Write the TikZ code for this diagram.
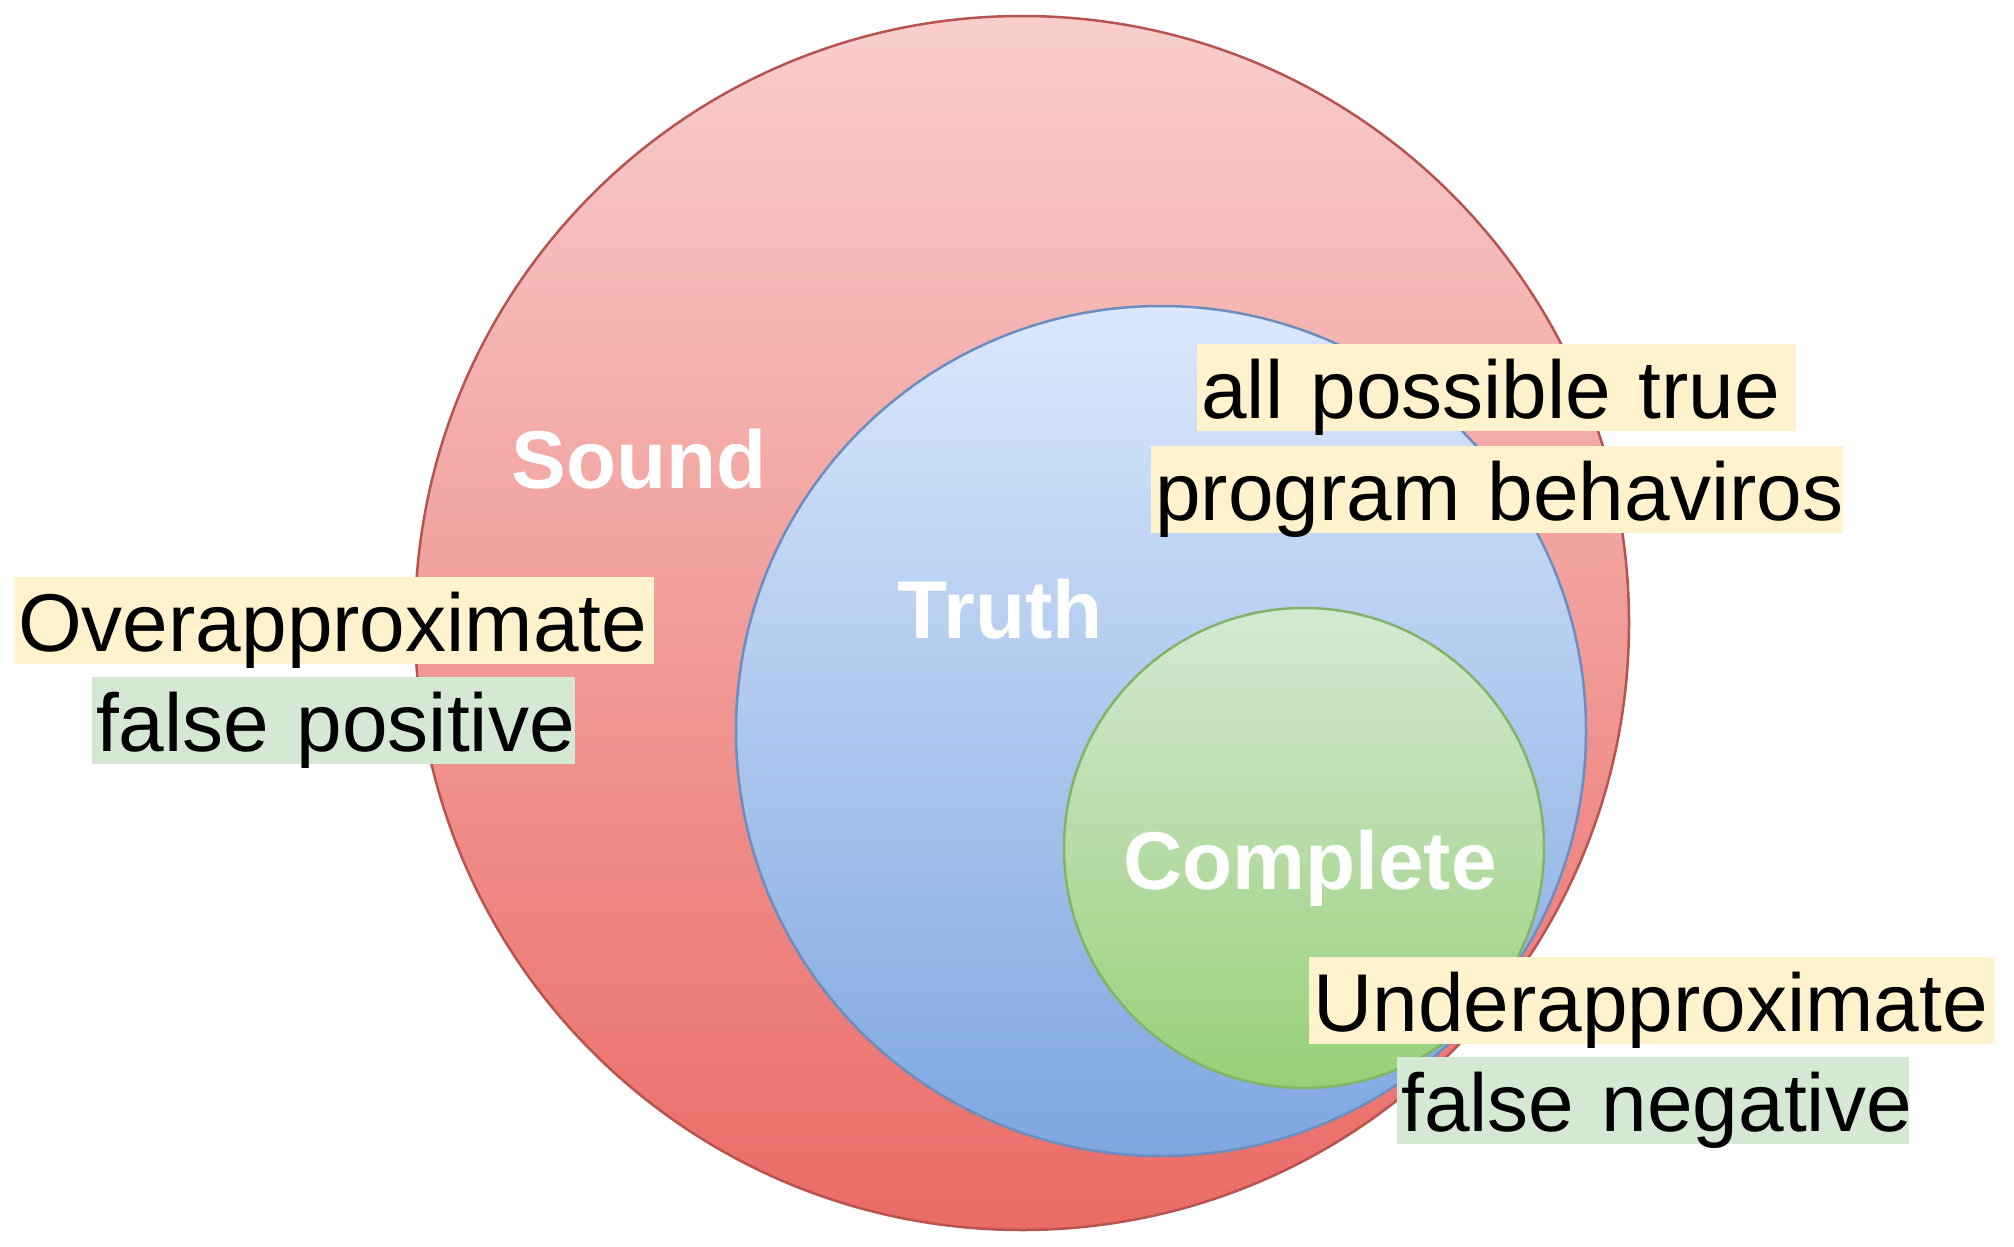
\documentclass[tikz,border=0pt]{standalone}
\usepackage{fontspec}
\setmainfont{Liberation Sans}
\definecolor{redtop}{HTML}{F8CECC}
\definecolor{redbot}{HTML}{EA6B66}
\definecolor{redline}{HTML}{B85450}
\definecolor{bluetop}{HTML}{DAE8FC}
\definecolor{bluebot}{HTML}{7EA6E0}
\definecolor{blueline}{HTML}{6C8EBF}
\definecolor{greentop}{HTML}{D5E8D4}
\definecolor{greenbot}{HTML}{97D077}
\definecolor{greenline}{HTML}{82B366}
\definecolor{hlyellow}{HTML}{FFF2CC}
\definecolor{hlgreen}{HTML}{D5E8D4}
\begin{document}
\begin{tikzpicture}[x=1pt,y=-1pt,
  setcircle/.style={circle, inner sep=0pt, line width=2.5pt},
  biglabel/.style={anchor=base, text=white, font=\fontsize{82pt}{98pt}\selectfont\bfseries, inner sep=0pt},
  hl/.style={anchor=north west, inner xsep=4pt, inner ysep=0pt, text height=74pt, text depth=13pt,
    align=left, font=\fontsize{82pt}{98pt}\selectfont, text=black},
  hly/.style={hl, fill=hlyellow},
  hlg/.style={hl, fill=hlgreen}]
\useasboundingbox (0,0) rectangle (2014,1247);
\node[setcircle, minimum size=1214pt, top color=redtop, bottom color=redbot, draw=redline] (sound) at (1022,623) {};
\node[setcircle, minimum size=850pt, top color=bluetop, bottom color=bluebot, draw=blueline] (truth) at (1161,731) {};
\node[setcircle, minimum size=480pt, top color=greentop, bottom color=greenbot, draw=greenline] (complete) at (1304,848) {};
\node[biglabel] (soundlbl) at (639,488) {Sound};
\node[biglabel] (truthlbl) at (1000,638) {Truth};
\node[biglabel] (completelbl) at (1310,889) {Complete};
\node[hly, text width=591pt] (all) at (1197,344) {\mbox{all possible true}};
\node[hly, text width=684pt] (prog) at (1151,446) {\mbox{program behaviros}};
\node[hly, text width=632pt] (over) at (14,577) {\mbox{Overapproximate}};
\node[hlg, text width=475pt] (fp) at (92,677) {\mbox{false positive}};
\node[hly, text width=678pt] (under) at (1309,957) {\mbox{Underapproximate}};
\node[hlg, text width=504pt] (fn) at (1397,1057) {\mbox{false negative}};
\end{tikzpicture}
\end{document}
